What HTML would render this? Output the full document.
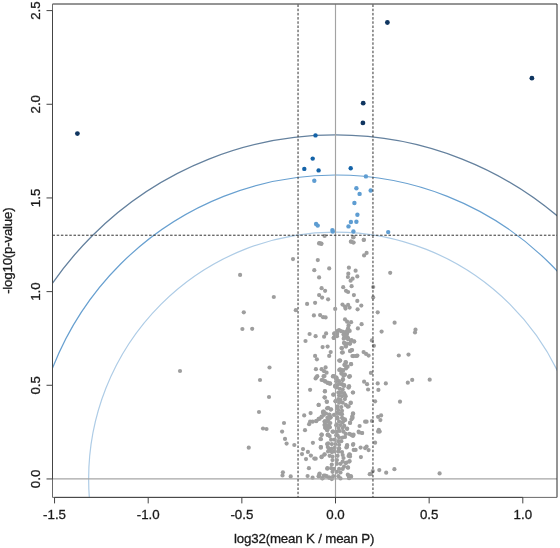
<!DOCTYPE html><html><head><meta charset="utf-8"><style>html,body{margin:0;padding:0;width:560px;height:548px;overflow:hidden;background:#fff}</style></head><body><div style="will-change:transform;position:absolute;left:0;top:0;width:560px;height:548px"><svg width="560" height="548" viewBox="0 0 560 548" style="position:absolute;left:0;top:0">
<defs><clipPath id="c"><rect x="52.5" y="4.5" width="504.5" height="492.9"/></clipPath></defs>
<rect width="560" height="548" fill="#fff"/>
<g clip-path="url(#c)" fill="none" stroke-width="1">
<ellipse cx="335.5" cy="478.95" rx="343.98" ry="344.05" stroke="#64819e" stroke-width="1.3"/>
<ellipse cx="335.5" cy="478.95" rx="303.89" ry="303.96" stroke="#68a0d0" stroke-width="1.2"/>
<ellipse cx="335.5" cy="478.95" rx="246.86" ry="246.91" stroke="#aecce6" stroke-width="1.2"/>
</g>
<g clip-path="url(#c)">
<g fill="#9e9e9e">
<circle cx="324.6" cy="236.0" r="2.1"/>
<circle cx="319.5" cy="243.1" r="2.1"/>
<circle cx="321.4" cy="243.6" r="2.1"/>
<circle cx="353.2" cy="237.4" r="2.1"/>
<circle cx="350.9" cy="241.7" r="2.1"/>
<circle cx="353.2" cy="242.5" r="2.1"/>
<circle cx="363.7" cy="239.9" r="2.1"/>
<circle cx="293.0" cy="259.1" r="2.1"/>
<circle cx="240.1" cy="274.9" r="2.1"/>
<circle cx="273.8" cy="297.0" r="2.1"/>
<circle cx="243.8" cy="312.3" r="2.1"/>
<circle cx="295.8" cy="310.2" r="2.1"/>
<circle cx="242.4" cy="329.0" r="2.1"/>
<circle cx="252.2" cy="328.8" r="2.1"/>
<circle cx="180.0" cy="371.0" r="2.1"/>
<circle cx="269.5" cy="367.5" r="2.1"/>
<circle cx="260.0" cy="380.0" r="2.1"/>
<circle cx="269.0" cy="397.0" r="2.1"/>
<circle cx="259.0" cy="412.0" r="2.1"/>
<circle cx="284.0" cy="423.0" r="2.1"/>
<circle cx="263.0" cy="428.5" r="2.1"/>
<circle cx="266.5" cy="429.0" r="2.1"/>
<circle cx="282.1" cy="431.6" r="2.1"/>
<circle cx="285.0" cy="438.9" r="2.1"/>
<circle cx="286.6" cy="443.6" r="2.1"/>
<circle cx="294.3" cy="445.0" r="2.1"/>
<circle cx="248.75" cy="447.7" r="2.1"/>
<circle cx="282.9" cy="472.3" r="2.1"/>
<circle cx="282.5" cy="475.4" r="2.1"/>
<circle cx="290.7" cy="476.4" r="2.1"/>
<circle cx="390.2" cy="272.8" r="2.1"/>
<circle cx="373.2" cy="287.0" r="2.1"/>
<circle cx="373.2" cy="297.4" r="2.1"/>
<circle cx="377.7" cy="312.3" r="2.1"/>
<circle cx="394.6" cy="322.7" r="2.1"/>
<circle cx="381.6" cy="331.6" r="2.1"/>
<circle cx="415.5" cy="329.7" r="2.1"/>
<circle cx="415.0" cy="332.5" r="2.1"/>
<circle cx="371.9" cy="340.4" r="2.1"/>
<circle cx="373.9" cy="345.8" r="2.1"/>
<circle cx="398.8" cy="355.5" r="2.1"/>
<circle cx="408.5" cy="354.6" r="2.1"/>
<circle cx="370.9" cy="372.9" r="2.1"/>
<circle cx="377.7" cy="383.4" r="2.1"/>
<circle cx="385.8" cy="383.4" r="2.1"/>
<circle cx="407.8" cy="382.7" r="2.1"/>
<circle cx="412.2" cy="379.9" r="2.1"/>
<circle cx="429.7" cy="379.7" r="2.1"/>
<circle cx="378.4" cy="389.9" r="2.1"/>
<circle cx="375.1" cy="401.3" r="2.1"/>
<circle cx="400.0" cy="401.7" r="2.1"/>
<circle cx="378.1" cy="416.8" r="2.1"/>
<circle cx="381.1" cy="415.4" r="2.1"/>
<circle cx="380.4" cy="420.1" r="2.1"/>
<circle cx="371.9" cy="421.0" r="2.1"/>
<circle cx="378.8" cy="429.8" r="2.1"/>
<circle cx="378.1" cy="431.6" r="2.1"/>
<circle cx="379.7" cy="431.6" r="2.1"/>
<circle cx="375.1" cy="442.7" r="2.1"/>
<circle cx="372.8" cy="471.1" r="2.1"/>
<circle cx="379.3" cy="470.1" r="2.1"/>
<circle cx="386.2" cy="472.7" r="2.1"/>
<circle cx="394.4" cy="469.2" r="2.1"/>
<circle cx="439.6" cy="473.4" r="2.1"/>
<circle cx="370.9" cy="473.9" r="2.1"/>
<circle cx="319.1" cy="243.4" r="2.1"/>
<circle cx="321.3" cy="243.9" r="2.1"/>
<circle cx="317.8" cy="260.1" r="2.1"/>
<circle cx="329.2" cy="268.4" r="2.1"/>
<circle cx="314.3" cy="270.2" r="2.1"/>
<circle cx="319.1" cy="277.4" r="2.1"/>
<circle cx="353.6" cy="237.0" r="2.1"/>
<circle cx="351.1" cy="241.5" r="2.1"/>
<circle cx="353.6" cy="242.5" r="2.1"/>
<circle cx="363.9" cy="239.8" r="2.1"/>
<circle cx="366.6" cy="252.9" r="2.1"/>
<circle cx="364.1" cy="255.4" r="2.1"/>
<circle cx="348.9" cy="267.7" r="2.1"/>
<circle cx="355.6" cy="270.7" r="2.1"/>
<circle cx="348.3" cy="273.7" r="2.1"/>
<circle cx="347.9" cy="277.0" r="2.1"/>
<circle cx="357.3" cy="276.4" r="2.1"/>
<circle cx="352.6" cy="278.7" r="2.1"/>
<circle cx="350.6" cy="280.7" r="2.1"/>
<circle cx="321.6" cy="288.2" r="2.1"/>
<circle cx="325.1" cy="290.8" r="2.1"/>
<circle cx="319.1" cy="295.1" r="2.1"/>
<circle cx="322.1" cy="297.6" r="2.1"/>
<circle cx="328.1" cy="299.3" r="2.1"/>
<circle cx="315.1" cy="302.8" r="2.1"/>
<circle cx="307.1" cy="303.9" r="2.1"/>
<circle cx="335.2" cy="308.9" r="2.1"/>
<circle cx="313.9" cy="315.4" r="2.1"/>
<circle cx="320.1" cy="315.1" r="2.1"/>
<circle cx="323.1" cy="317.2" r="2.1"/>
<circle cx="325.6" cy="317.4" r="2.1"/>
<circle cx="309.6" cy="334.0" r="2.1"/>
<circle cx="315.6" cy="336.2" r="2.1"/>
<circle cx="326.1" cy="333.4" r="2.1"/>
<circle cx="324.1" cy="336.7" r="2.1"/>
<circle cx="334.7" cy="333.4" r="2.1"/>
<circle cx="337.2" cy="331.2" r="2.1"/>
<circle cx="335.2" cy="335.7" r="2.1"/>
<circle cx="351.6" cy="286.2" r="2.1"/>
<circle cx="343.2" cy="287.2" r="2.1"/>
<circle cx="346.0" cy="290.8" r="2.1"/>
<circle cx="348.1" cy="292.0" r="2.1"/>
<circle cx="353.9" cy="295.1" r="2.1"/>
<circle cx="357.3" cy="300.9" r="2.1"/>
<circle cx="361.3" cy="305.6" r="2.1"/>
<circle cx="357.6" cy="309.3" r="2.1"/>
<circle cx="342.5" cy="304.6" r="2.1"/>
<circle cx="345.0" cy="306.6" r="2.1"/>
<circle cx="348.1" cy="304.9" r="2.1"/>
<circle cx="349.6" cy="307.6" r="2.1"/>
<circle cx="345.5" cy="308.6" r="2.1"/>
<circle cx="345.0" cy="319.4" r="2.1"/>
<circle cx="347.1" cy="321.7" r="2.1"/>
<circle cx="351.1" cy="322.2" r="2.1"/>
<circle cx="361.6" cy="324.2" r="2.1"/>
<circle cx="357.9" cy="328.4" r="2.1"/>
<circle cx="348.6" cy="325.2" r="2.1"/>
<circle cx="348.1" cy="328.2" r="2.1"/>
<circle cx="347.1" cy="331.2" r="2.1"/>
<circle cx="346.0" cy="334.2" r="2.1"/>
<circle cx="339.0" cy="330.2" r="2.1"/>
<circle cx="341.0" cy="331.2" r="2.1"/>
<circle cx="337.0" cy="333.2" r="2.1"/>
<circle cx="337.0" cy="336.2" r="2.1"/>
<circle cx="345.0" cy="336.2" r="2.1"/>
<circle cx="333.7" cy="338.0" r="2.1"/>
<circle cx="305.5" cy="341.0" r="2.1"/>
<circle cx="322.6" cy="347.1" r="2.1"/>
<circle cx="327.6" cy="346.6" r="2.1"/>
<circle cx="330.7" cy="352.1" r="2.1"/>
<circle cx="329.2" cy="355.9" r="2.1"/>
<circle cx="315.1" cy="355.9" r="2.1"/>
<circle cx="316.9" cy="359.3" r="2.1"/>
<circle cx="339.2" cy="360.6" r="2.1"/>
<circle cx="315.9" cy="369.2" r="2.1"/>
<circle cx="321.6" cy="369.2" r="2.1"/>
<circle cx="325.6" cy="367.4" r="2.1"/>
<circle cx="324.1" cy="371.2" r="2.1"/>
<circle cx="326.6" cy="372.7" r="2.1"/>
<circle cx="339.2" cy="370.0" r="2.1"/>
<circle cx="317.3" cy="376.2" r="2.1"/>
<circle cx="315.6" cy="378.4" r="2.1"/>
<circle cx="323.6" cy="376.2" r="2.1"/>
<circle cx="333.2" cy="376.2" r="2.1"/>
<circle cx="336.2" cy="377.7" r="2.1"/>
<circle cx="321.6" cy="380.0" r="2.1"/>
<circle cx="325.1" cy="381.2" r="2.1"/>
<circle cx="327.6" cy="382.7" r="2.1"/>
<circle cx="330.2" cy="383.7" r="2.1"/>
<circle cx="336.2" cy="381.2" r="2.1"/>
<circle cx="335.2" cy="385.7" r="2.1"/>
<circle cx="343.5" cy="334.5" r="2.1"/>
<circle cx="347.1" cy="333.5" r="2.1"/>
<circle cx="344.5" cy="338.0" r="2.1"/>
<circle cx="348.1" cy="338.0" r="2.1"/>
<circle cx="350.6" cy="340.5" r="2.1"/>
<circle cx="354.1" cy="341.5" r="2.1"/>
<circle cx="344.0" cy="343.0" r="2.1"/>
<circle cx="350.1" cy="343.6" r="2.1"/>
<circle cx="346.0" cy="346.6" r="2.1"/>
<circle cx="341.5" cy="348.1" r="2.1"/>
<circle cx="342.0" cy="352.6" r="2.1"/>
<circle cx="350.1" cy="351.1" r="2.1"/>
<circle cx="352.1" cy="350.1" r="2.1"/>
<circle cx="353.1" cy="356.1" r="2.1"/>
<circle cx="356.6" cy="355.9" r="2.1"/>
<circle cx="363.6" cy="352.1" r="2.1"/>
<circle cx="366.1" cy="353.9" r="2.1"/>
<circle cx="368.6" cy="355.6" r="2.1"/>
<circle cx="340.0" cy="360.6" r="2.1"/>
<circle cx="345.5" cy="362.1" r="2.1"/>
<circle cx="351.1" cy="364.1" r="2.1"/>
<circle cx="344.5" cy="365.1" r="2.1"/>
<circle cx="347.6" cy="366.7" r="2.1"/>
<circle cx="340.0" cy="369.7" r="2.1"/>
<circle cx="343.0" cy="370.7" r="2.1"/>
<circle cx="341.5" cy="373.7" r="2.1"/>
<circle cx="345.0" cy="374.7" r="2.1"/>
<circle cx="349.9" cy="376.2" r="2.1"/>
<circle cx="336.5" cy="377.7" r="2.1"/>
<circle cx="339.0" cy="381.2" r="2.1"/>
<circle cx="343.0" cy="379.2" r="2.1"/>
<circle cx="342.0" cy="384.2" r="2.1"/>
<circle cx="337.0" cy="385.2" r="2.1"/>
<circle cx="364.1" cy="381.7" r="2.1"/>
<circle cx="367.1" cy="384.2" r="2.1"/>
<circle cx="349.1" cy="386.2" r="2.1"/>
<circle cx="329.2" cy="383.5" r="2.1"/>
<circle cx="310.1" cy="389.8" r="2.1"/>
<circle cx="324.9" cy="391.2" r="2.1"/>
<circle cx="333.7" cy="394.6" r="2.1"/>
<circle cx="335.2" cy="386.5" r="2.1"/>
<circle cx="324.9" cy="397.6" r="2.1"/>
<circle cx="326.9" cy="401.9" r="2.1"/>
<circle cx="335.7" cy="401.1" r="2.1"/>
<circle cx="318.7" cy="404.9" r="2.1"/>
<circle cx="327.1" cy="408.3" r="2.1"/>
<circle cx="330.7" cy="409.6" r="2.1"/>
<circle cx="323.1" cy="411.6" r="2.1"/>
<circle cx="310.6" cy="413.1" r="2.1"/>
<circle cx="304.2" cy="415.4" r="2.1"/>
<circle cx="329.2" cy="414.6" r="2.1"/>
<circle cx="330.7" cy="417.2" r="2.1"/>
<circle cx="321.6" cy="416.7" r="2.1"/>
<circle cx="319.6" cy="418.7" r="2.1"/>
<circle cx="316.1" cy="421.2" r="2.1"/>
<circle cx="312.6" cy="421.7" r="2.1"/>
<circle cx="310.1" cy="421.7" r="2.1"/>
<circle cx="309.1" cy="424.2" r="2.1"/>
<circle cx="325.1" cy="421.2" r="2.1"/>
<circle cx="328.1" cy="420.2" r="2.1"/>
<circle cx="325.1" cy="424.2" r="2.1"/>
<circle cx="328.6" cy="425.2" r="2.1"/>
<circle cx="325.1" cy="427.7" r="2.1"/>
<circle cx="329.7" cy="427.2" r="2.1"/>
<circle cx="327.1" cy="430.2" r="2.1"/>
<circle cx="305.0" cy="430.2" r="2.1"/>
<circle cx="333.2" cy="431.7" r="2.1"/>
<circle cx="336.2" cy="425.2" r="2.1"/>
<circle cx="337.2" cy="417.2" r="2.1"/>
<circle cx="337.2" cy="408.1" r="2.1"/>
<circle cx="321.6" cy="434.7" r="2.1"/>
<circle cx="328.1" cy="434.7" r="2.1"/>
<circle cx="336.2" cy="435.2" r="2.1"/>
<circle cx="348.6" cy="387.5" r="2.1"/>
<circle cx="352.9" cy="392.5" r="2.1"/>
<circle cx="345.0" cy="395.1" r="2.1"/>
<circle cx="344.0" cy="386.0" r="2.1"/>
<circle cx="350.6" cy="403.1" r="2.1"/>
<circle cx="347.6" cy="406.6" r="2.1"/>
<circle cx="353.1" cy="413.9" r="2.1"/>
<circle cx="352.6" cy="417.7" r="2.1"/>
<circle cx="350.1" cy="422.7" r="2.1"/>
<circle cx="343.0" cy="418.7" r="2.1"/>
<circle cx="345.0" cy="420.2" r="2.1"/>
<circle cx="359.6" cy="426.0" r="2.1"/>
<circle cx="365.1" cy="421.7" r="2.1"/>
<circle cx="366.6" cy="421.7" r="2.1"/>
<circle cx="347.1" cy="428.7" r="2.1"/>
<circle cx="358.6" cy="431.7" r="2.1"/>
<circle cx="362.1" cy="433.0" r="2.1"/>
<circle cx="351.1" cy="434.7" r="2.1"/>
<circle cx="353.6" cy="434.7" r="2.1"/>
<circle cx="368.1" cy="389.5" r="2.1"/>
<circle cx="321.6" cy="435.0" r="2.1"/>
<circle cx="320.9" cy="439.2" r="2.1"/>
<circle cx="327.6" cy="435.0" r="2.1"/>
<circle cx="312.9" cy="442.8" r="2.1"/>
<circle cx="320.9" cy="447.1" r="2.1"/>
<circle cx="327.1" cy="444.1" r="2.1"/>
<circle cx="303.0" cy="449.1" r="2.1"/>
<circle cx="307.9" cy="451.9" r="2.1"/>
<circle cx="302.0" cy="454.1" r="2.1"/>
<circle cx="310.9" cy="455.6" r="2.1"/>
<circle cx="314.3" cy="458.6" r="2.1"/>
<circle cx="306.0" cy="459.1" r="2.1"/>
<circle cx="321.6" cy="456.6" r="2.1"/>
<circle cx="324.6" cy="454.6" r="2.1"/>
<circle cx="308.9" cy="468.2" r="2.1"/>
<circle cx="327.3" cy="468.7" r="2.1"/>
<circle cx="307.6" cy="476.0" r="2.1"/>
<circle cx="312.6" cy="477.7" r="2.1"/>
<circle cx="319.6" cy="473.7" r="2.1"/>
<circle cx="319.1" cy="476.2" r="2.1"/>
<circle cx="322.6" cy="478.2" r="2.1"/>
<circle cx="325.1" cy="475.7" r="2.1"/>
<circle cx="329.2" cy="477.7" r="2.1"/>
<circle cx="345.0" cy="437.0" r="2.1"/>
<circle cx="353.1" cy="435.8" r="2.1"/>
<circle cx="347.1" cy="445.1" r="2.1"/>
<circle cx="346.9" cy="446.9" r="2.1"/>
<circle cx="353.3" cy="444.1" r="2.1"/>
<circle cx="355.6" cy="449.9" r="2.1"/>
<circle cx="360.6" cy="447.6" r="2.1"/>
<circle cx="365.1" cy="448.1" r="2.1"/>
<circle cx="366.6" cy="446.6" r="2.1"/>
<circle cx="368.6" cy="450.1" r="2.1"/>
<circle cx="349.9" cy="454.6" r="2.1"/>
<circle cx="348.6" cy="455.9" r="2.1"/>
<circle cx="360.9" cy="457.1" r="2.1"/>
<circle cx="349.6" cy="461.1" r="2.1"/>
<circle cx="346.6" cy="462.6" r="2.1"/>
<circle cx="348.1" cy="467.7" r="2.1"/>
<circle cx="344.0" cy="466.7" r="2.1"/>
<circle cx="348.6" cy="475.7" r="2.1"/>
<circle cx="351.1" cy="476.7" r="2.1"/>
<circle cx="349.1" cy="478.2" r="2.1"/>
<circle cx="369.7" cy="474.2" r="2.1"/>
<circle cx="359.1" cy="432.5" r="2.1"/>
<circle cx="362.1" cy="433.0" r="2.1"/>
<circle cx="343.3" cy="331.8" r="2.1"/>
<circle cx="346.9" cy="331.4" r="2.1"/>
<circle cx="349.7" cy="330.9" r="2.1"/>
<circle cx="344.2" cy="335.5" r="2.1"/>
<circle cx="346.9" cy="336.4" r="2.1"/>
<circle cx="343.7" cy="338.7" r="2.1"/>
<circle cx="347.8" cy="339.1" r="2.1"/>
<circle cx="351.5" cy="340.0" r="2.1"/>
<circle cx="354.2" cy="341.4" r="2.1"/>
<circle cx="344.2" cy="342.8" r="2.1"/>
<circle cx="346.9" cy="343.7" r="2.1"/>
<circle cx="349.7" cy="343.7" r="2.1"/>
<circle cx="345.5" cy="346.0" r="2.1"/>
<circle cx="341.9" cy="348.3" r="2.1"/>
<circle cx="342.8" cy="352.4" r="2.1"/>
<circle cx="350.1" cy="351.0" r="2.1"/>
<circle cx="351.5" cy="350.1" r="2.1"/>
<circle cx="352.4" cy="356.0" r="2.1"/>
<circle cx="355.1" cy="356.0" r="2.1"/>
<circle cx="357.4" cy="355.6" r="2.1"/>
<circle cx="340.1" cy="360.6" r="2.1"/>
<circle cx="346.0" cy="362.4" r="2.1"/>
<circle cx="344.6" cy="364.7" r="2.1"/>
<circle cx="351.0" cy="364.2" r="2.1"/>
<circle cx="346.9" cy="366.5" r="2.1"/>
<circle cx="340.1" cy="369.3" r="2.1"/>
<circle cx="342.8" cy="370.2" r="2.1"/>
<circle cx="346.0" cy="368.4" r="2.1"/>
<circle cx="341.4" cy="372.9" r="2.1"/>
<circle cx="344.2" cy="374.7" r="2.1"/>
<circle cx="349.2" cy="376.6" r="2.1"/>
<circle cx="333.7" cy="376.1" r="2.1"/>
<circle cx="336.0" cy="378.4" r="2.1"/>
<circle cx="334.1" cy="333.7" r="2.1"/>
<circle cx="333.7" cy="337.8" r="2.1"/>
<circle cx="336.9" cy="334.6" r="2.1"/>
<circle cx="316.5" cy="377.2" r="2.1"/>
<circle cx="323.0" cy="380.1" r="2.1"/>
<circle cx="325.2" cy="381.6" r="2.1"/>
<circle cx="327.8" cy="383.0" r="2.1"/>
<circle cx="330.0" cy="383.4" r="2.1"/>
<circle cx="324.5" cy="376.1" r="2.1"/>
<circle cx="332.9" cy="376.5" r="2.1"/>
<circle cx="324.9" cy="391.4" r="2.1"/>
<circle cx="324.5" cy="397.3" r="2.1"/>
<circle cx="326.7" cy="401.6" r="2.1"/>
<circle cx="318.6" cy="404.9" r="2.1"/>
<circle cx="333.2" cy="394.7" r="2.1"/>
<circle cx="335.4" cy="386.7" r="2.1"/>
<circle cx="328.1" cy="407.8" r="2.1"/>
<circle cx="331.1" cy="409.3" r="2.1"/>
<circle cx="323.8" cy="411.5" r="2.1"/>
<circle cx="335.4" cy="401.3" r="2.1"/>
<circle cx="336.9" cy="379.4" r="2.1"/>
<circle cx="342.7" cy="380.1" r="2.1"/>
<circle cx="339.1" cy="383.8" r="2.1"/>
<circle cx="342.0" cy="384.5" r="2.1"/>
<circle cx="344.2" cy="385.2" r="2.1"/>
<circle cx="348.6" cy="387.4" r="2.1"/>
<circle cx="336.9" cy="387.4" r="2.1"/>
<circle cx="339.8" cy="388.9" r="2.1"/>
<circle cx="342.7" cy="389.6" r="2.1"/>
<circle cx="338.4" cy="392.5" r="2.1"/>
<circle cx="341.3" cy="392.5" r="2.1"/>
<circle cx="344.2" cy="393.2" r="2.1"/>
<circle cx="345.7" cy="396.2" r="2.1"/>
<circle cx="339.1" cy="395.4" r="2.1"/>
<circle cx="342.0" cy="396.2" r="2.1"/>
<circle cx="338.4" cy="399.1" r="2.1"/>
<circle cx="340.5" cy="399.8" r="2.1"/>
<circle cx="344.9" cy="399.1" r="2.1"/>
<circle cx="339.1" cy="402.7" r="2.1"/>
<circle cx="342.7" cy="402.7" r="2.1"/>
<circle cx="345.7" cy="404.9" r="2.1"/>
<circle cx="348.6" cy="406.4" r="2.1"/>
<circle cx="337.6" cy="406.4" r="2.1"/>
<circle cx="341.3" cy="407.1" r="2.1"/>
<circle cx="338.4" cy="410.0" r="2.1"/>
<circle cx="342.0" cy="410.8" r="2.1"/>
<circle cx="336.9" cy="413.0" r="2.1"/>
<circle cx="340.5" cy="413.7" r="2.1"/>
<circle cx="353.0" cy="392.5" r="2.1"/>
<circle cx="350.8" cy="402.7" r="2.1"/>
<circle cx="353.0" cy="413.3" r="2.1"/>
<circle cx="349.3" cy="376.8" r="2.1"/>
<circle cx="343.5" cy="375.7" r="2.1"/>
<circle cx="316.5" cy="420.8" r="2.1"/>
<circle cx="318.6" cy="418.9" r="2.1"/>
<circle cx="321.6" cy="417.1" r="2.1"/>
<circle cx="323.8" cy="414.9" r="2.1"/>
<circle cx="323.0" cy="412.7" r="2.1"/>
<circle cx="326.0" cy="413.5" r="2.1"/>
<circle cx="329.6" cy="414.9" r="2.1"/>
<circle cx="327.4" cy="417.8" r="2.1"/>
<circle cx="330.3" cy="417.8" r="2.1"/>
<circle cx="324.5" cy="421.5" r="2.1"/>
<circle cx="327.8" cy="421.5" r="2.1"/>
<circle cx="330.3" cy="423.0" r="2.1"/>
<circle cx="324.5" cy="425.1" r="2.1"/>
<circle cx="327.8" cy="425.9" r="2.1"/>
<circle cx="325.6" cy="428.1" r="2.1"/>
<circle cx="329.6" cy="427.3" r="2.1"/>
<circle cx="327.4" cy="429.9" r="2.1"/>
<circle cx="321.6" cy="434.6" r="2.1"/>
<circle cx="320.5" cy="439.0" r="2.1"/>
<circle cx="320.8" cy="447.0" r="2.1"/>
<circle cx="327.8" cy="434.6" r="2.1"/>
<circle cx="329.6" cy="436.1" r="2.1"/>
<circle cx="332.5" cy="431.7" r="2.1"/>
<circle cx="328.1" cy="443.4" r="2.1"/>
<circle cx="327.8" cy="447.0" r="2.1"/>
<circle cx="331.1" cy="439.7" r="2.1"/>
<circle cx="331.8" cy="444.1" r="2.1"/>
<circle cx="330.3" cy="449.2" r="2.1"/>
<circle cx="334.0" cy="414.9" r="2.1"/>
<circle cx="336.9" cy="412.7" r="2.1"/>
<circle cx="339.8" cy="413.5" r="2.1"/>
<circle cx="337.6" cy="418.6" r="2.1"/>
<circle cx="342.0" cy="417.8" r="2.1"/>
<circle cx="344.9" cy="419.3" r="2.1"/>
<circle cx="339.1" cy="421.5" r="2.1"/>
<circle cx="342.7" cy="422.2" r="2.1"/>
<circle cx="336.9" cy="424.4" r="2.1"/>
<circle cx="340.5" cy="425.1" r="2.1"/>
<circle cx="344.2" cy="425.9" r="2.1"/>
<circle cx="338.4" cy="428.1" r="2.1"/>
<circle cx="342.7" cy="428.1" r="2.1"/>
<circle cx="347.1" cy="428.8" r="2.1"/>
<circle cx="336.9" cy="431.7" r="2.1"/>
<circle cx="339.8" cy="431.0" r="2.1"/>
<circle cx="343.5" cy="431.7" r="2.1"/>
<circle cx="345.7" cy="433.9" r="2.1"/>
<circle cx="349.3" cy="433.9" r="2.1"/>
<circle cx="352.2" cy="435.4" r="2.1"/>
<circle cx="337.6" cy="435.4" r="2.1"/>
<circle cx="339.1" cy="437.5" r="2.1"/>
<circle cx="342.7" cy="437.5" r="2.1"/>
<circle cx="334.7" cy="439.7" r="2.1"/>
<circle cx="338.4" cy="441.2" r="2.1"/>
<circle cx="341.3" cy="441.2" r="2.1"/>
<circle cx="335.4" cy="444.1" r="2.1"/>
<circle cx="339.1" cy="444.8" r="2.1"/>
<circle cx="334.7" cy="447.8" r="2.1"/>
<circle cx="339.1" cy="448.5" r="2.1"/>
<circle cx="334.0" cy="451.4" r="2.1"/>
<circle cx="338.4" cy="451.4" r="2.1"/>
<circle cx="350.0" cy="423.0" r="2.1"/>
<circle cx="347.1" cy="445.6" r="2.1"/>
<circle cx="353.0" cy="444.8" r="2.1"/>
<circle cx="352.2" cy="416.4" r="2.1"/>
<circle cx="351.5" cy="419.3" r="2.1"/>
<circle cx="342.0" cy="414.2" r="2.1"/>
<circle cx="320.8" cy="447.7" r="2.1"/>
<circle cx="328.9" cy="448.5" r="2.1"/>
<circle cx="331.8" cy="448.5" r="2.1"/>
<circle cx="339.1" cy="448.5" r="2.1"/>
<circle cx="346.4" cy="447.4" r="2.1"/>
<circle cx="353.7" cy="449.9" r="2.1"/>
<circle cx="328.1" cy="451.4" r="2.1"/>
<circle cx="331.8" cy="452.1" r="2.1"/>
<circle cx="338.4" cy="451.4" r="2.1"/>
<circle cx="342.0" cy="452.1" r="2.1"/>
<circle cx="324.5" cy="454.3" r="2.1"/>
<circle cx="321.6" cy="457.2" r="2.1"/>
<circle cx="329.6" cy="455.8" r="2.1"/>
<circle cx="332.5" cy="456.5" r="2.1"/>
<circle cx="337.6" cy="455.8" r="2.1"/>
<circle cx="342.7" cy="455.0" r="2.1"/>
<circle cx="343.5" cy="458.0" r="2.1"/>
<circle cx="349.3" cy="454.3" r="2.1"/>
<circle cx="350.0" cy="456.5" r="2.1"/>
<circle cx="315.7" cy="458.7" r="2.1"/>
<circle cx="332.5" cy="460.1" r="2.1"/>
<circle cx="336.9" cy="460.1" r="2.1"/>
<circle cx="342.7" cy="461.6" r="2.1"/>
<circle cx="345.7" cy="463.1" r="2.1"/>
<circle cx="349.3" cy="461.6" r="2.1"/>
<circle cx="331.8" cy="464.5" r="2.1"/>
<circle cx="336.9" cy="463.8" r="2.1"/>
<circle cx="340.5" cy="463.8" r="2.1"/>
<circle cx="327.4" cy="468.2" r="2.1"/>
<circle cx="331.1" cy="468.2" r="2.1"/>
<circle cx="334.0" cy="468.9" r="2.1"/>
<circle cx="339.1" cy="468.9" r="2.1"/>
<circle cx="342.7" cy="468.9" r="2.1"/>
<circle cx="347.8" cy="467.4" r="2.1"/>
<circle cx="332.5" cy="471.8" r="2.1"/>
<circle cx="336.9" cy="471.8" r="2.1"/>
<circle cx="340.5" cy="472.5" r="2.1"/>
<circle cx="319.4" cy="474.0" r="2.1"/>
<circle cx="318.6" cy="476.2" r="2.1"/>
<circle cx="323.8" cy="475.5" r="2.1"/>
<circle cx="326.7" cy="476.2" r="2.1"/>
<circle cx="322.3" cy="478.4" r="2.1"/>
<circle cx="329.6" cy="477.7" r="2.1"/>
<circle cx="333.2" cy="476.2" r="2.1"/>
<circle cx="331.8" cy="479.1" r="2.1"/>
<circle cx="338.4" cy="476.2" r="2.1"/>
<circle cx="340.5" cy="478.4" r="2.1"/>
<circle cx="347.8" cy="474.7" r="2.1"/>
<circle cx="350.8" cy="476.2" r="2.1"/>
<circle cx="349.3" cy="477.7" r="2.1"/>
</g>
<g fill="#5e9dd2">
<circle cx="314.3" cy="180.7" r="2.2"/>
<circle cx="365.9" cy="176.4" r="2.2"/>
<circle cx="356.4" cy="188.2" r="2.2"/>
<circle cx="359.6" cy="193.9" r="2.2"/>
<circle cx="370.7" cy="190.5" r="2.2"/>
<circle cx="354.4" cy="203.0" r="2.2"/>
<circle cx="357.4" cy="214.8" r="2.2"/>
<circle cx="316.1" cy="224.0" r="2.2"/>
<circle cx="317.7" cy="225.6" r="2.2"/>
<circle cx="350.9" cy="222.0" r="2.2"/>
<circle cx="356.4" cy="221.8" r="2.2"/>
<circle cx="348.5" cy="226.4" r="2.2"/>
<circle cx="332.4" cy="230.1" r="2.2"/>
<circle cx="332.8" cy="231.5" r="2.2"/>
<circle cx="353.4" cy="231.5" r="2.2"/>
<circle cx="388.2" cy="232.1" r="2.2"/>
</g>
<g fill="#1463a8">
<circle cx="315.5" cy="135.4" r="2.2"/>
<circle cx="312.7" cy="158.6" r="2.2"/>
<circle cx="304.3" cy="168.9" r="2.2"/>
<circle cx="318.6" cy="170.4" r="2.2"/>
<circle cx="350.7" cy="168.2" r="2.2"/>
</g>
<g fill="#0f3560">
<circle cx="362.9" cy="122.9" r="2.4"/>
<circle cx="387.4" cy="22.5" r="2.4"/>
<circle cx="363.2" cy="103.2" r="2.4"/>
<circle cx="531.9" cy="78.2" r="2.4"/>
<circle cx="77.4" cy="133.6" r="2.4"/>
</g>
</g>
<line x1="52.5" x2="557.0" y1="478.95" y2="478.95" stroke="#a6a6a6" stroke-width="1.3"/>
<line x1="335.5" x2="335.5" y1="4.5" y2="497.4" stroke="#a3a3a3" stroke-width="1.15"/>
<g stroke="#333" stroke-width="1" stroke-dasharray="2.5,1.7">
<line x1="52.5" x2="557.0" y1="235.22" y2="235.22"/>
<line x1="298.04" x2="298.04" y1="4.5" y2="497.4"/>
<line x1="372.96" x2="372.96" y1="4.5" y2="497.4"/>
</g>
<path d="M52.5 4.0 L557.0 4.0 L557.0 497.4" fill="none" stroke="#2a2a2a" stroke-width="1"/>
<path d="M52.5 4.0 L52.5 497.4 L557.0 497.4" fill="none" stroke="#6a6a6a" stroke-width="1"/>
<g stroke="#444" stroke-width="1">
<line x1="54.55" x2="522.80" y1="497.4" y2="497.4"/>
<line x1="54.55" x2="54.55" y1="497.4" y2="503.4"/>
<line x1="148.20" x2="148.20" y1="497.4" y2="503.4"/>
<line x1="241.85" x2="241.85" y1="497.4" y2="503.4"/>
<line x1="335.50" x2="335.50" y1="497.4" y2="503.4"/>
<line x1="429.15" x2="429.15" y1="497.4" y2="503.4"/>
<line x1="522.80" x2="522.80" y1="497.4" y2="503.4"/>
<line x1="52.5" x2="52.5" y1="478.95" y2="10.60"/>
<line x1="46.5" x2="52.5" y1="478.95" y2="478.95"/>
<line x1="46.5" x2="52.5" y1="385.28" y2="385.28"/>
<line x1="46.5" x2="52.5" y1="291.61" y2="291.61"/>
<line x1="46.5" x2="52.5" y1="197.94" y2="197.94"/>
<line x1="46.5" x2="52.5" y1="104.27" y2="104.27"/>
<line x1="46.5" x2="52.5" y1="10.60" y2="10.60"/>
</g>
<g font-family="Liberation Sans, sans-serif" font-size="13.3" fill="#1a1a1a" stroke="#1a1a1a" stroke-width="0.3" text-anchor="middle">
<text x="54.55" y="519.2">-1.5</text>
<text x="148.20" y="519.2">-1.0</text>
<text x="241.85" y="519.2">-0.5</text>
<text x="335.50" y="519.2">0.0</text>
<text x="429.15" y="519.2">0.5</text>
<text x="522.80" y="519.2">1.0</text>
<text transform="translate(40,478.95) rotate(-90)" x="0" y="0">0.0</text>
<text transform="translate(40,385.28) rotate(-90)" x="0" y="0">0.5</text>
<text transform="translate(40,291.61) rotate(-90)" x="0" y="0">1.0</text>
<text transform="translate(40,197.94) rotate(-90)" x="0" y="0">1.5</text>
<text transform="translate(40,104.27) rotate(-90)" x="0" y="0">2.0</text>
<text transform="translate(40,10.60) rotate(-90)" x="0" y="0">2.5</text>
<text x="304.2" y="542.7" textLength="140.5" lengthAdjust="spacing">log32(mean K / mean P)</text>
<text transform="translate(11.5,250.6) rotate(-90)" x="0" y="0" textLength="86.5" lengthAdjust="spacing">-log10(p-value)</text>
</g>
</svg></div></body></html>
